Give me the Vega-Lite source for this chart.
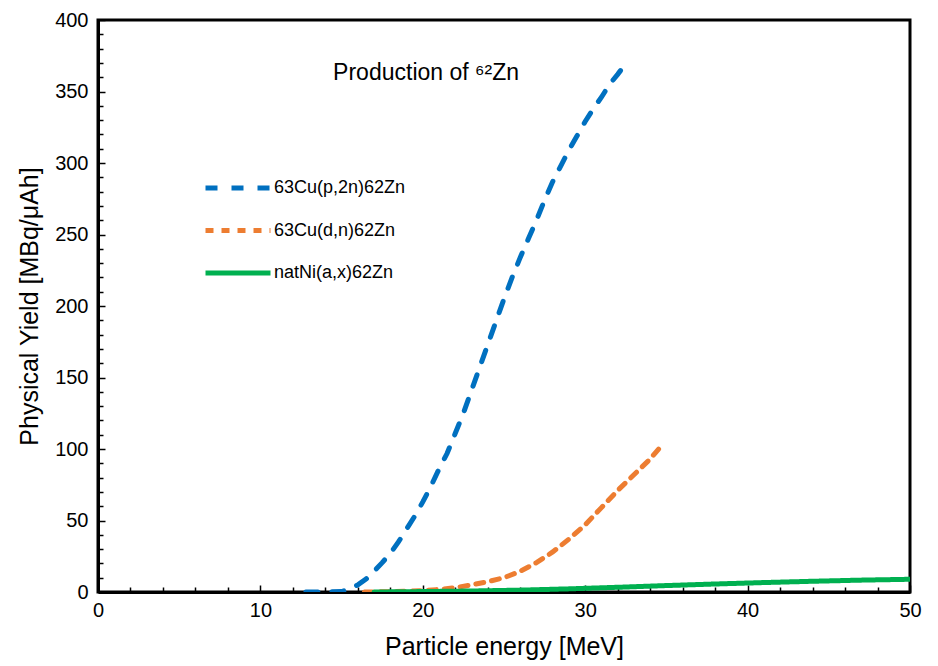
{
  "$schema": "https://vega.github.io/schema/vega-lite/v6.json",
  "width": 812,
  "height": 572,
  "autosize": "none",
  "padding": {"left": 98, "top": 20, "right": 28, "bottom": 74},
  "background": "white",
  "config": {
    "font": "Liberation Sans",
    "view": {"stroke": "black", "strokeWidth": 3}
  },
  "data": {
    "values": [
      {"reaction": "63Cu(p,2n)62Zn", "E": 12.8, "Y": 0},
      {"reaction": "63Cu(p,2n)62Zn", "E": 14, "Y": 0},
      {"reaction": "63Cu(p,2n)62Zn", "E": 15, "Y": 0.3},
      {"reaction": "63Cu(p,2n)62Zn", "E": 15.5, "Y": 2},
      {"reaction": "63Cu(p,2n)62Zn", "E": 16, "Y": 5},
      {"reaction": "63Cu(p,2n)62Zn", "E": 16.5, "Y": 9},
      {"reaction": "63Cu(p,2n)62Zn", "E": 17, "Y": 14.5},
      {"reaction": "63Cu(p,2n)62Zn", "E": 17.5, "Y": 20.5},
      {"reaction": "63Cu(p,2n)62Zn", "E": 18, "Y": 27},
      {"reaction": "63Cu(p,2n)62Zn", "E": 18.5, "Y": 35},
      {"reaction": "63Cu(p,2n)62Zn", "E": 19, "Y": 44},
      {"reaction": "63Cu(p,2n)62Zn", "E": 19.5, "Y": 53},
      {"reaction": "63Cu(p,2n)62Zn", "E": 20, "Y": 63},
      {"reaction": "63Cu(p,2n)62Zn", "E": 20.5, "Y": 74},
      {"reaction": "63Cu(p,2n)62Zn", "E": 21, "Y": 86},
      {"reaction": "63Cu(p,2n)62Zn", "E": 21.5, "Y": 97},
      {"reaction": "63Cu(p,2n)62Zn", "E": 22, "Y": 111},
      {"reaction": "63Cu(p,2n)62Zn", "E": 22.5, "Y": 125},
      {"reaction": "63Cu(p,2n)62Zn", "E": 23, "Y": 141},
      {"reaction": "63Cu(p,2n)62Zn", "E": 23.5, "Y": 157},
      {"reaction": "63Cu(p,2n)62Zn", "E": 24, "Y": 173},
      {"reaction": "63Cu(p,2n)62Zn", "E": 24.5, "Y": 189},
      {"reaction": "63Cu(p,2n)62Zn", "E": 25, "Y": 205},
      {"reaction": "63Cu(p,2n)62Zn", "E": 25.5, "Y": 220},
      {"reaction": "63Cu(p,2n)62Zn", "E": 26, "Y": 234},
      {"reaction": "63Cu(p,2n)62Zn", "E": 26.5, "Y": 247},
      {"reaction": "63Cu(p,2n)62Zn", "E": 27, "Y": 260},
      {"reaction": "63Cu(p,2n)62Zn", "E": 27.5, "Y": 274},
      {"reaction": "63Cu(p,2n)62Zn", "E": 28, "Y": 287},
      {"reaction": "63Cu(p,2n)62Zn", "E": 28.5, "Y": 298},
      {"reaction": "63Cu(p,2n)62Zn", "E": 29, "Y": 309},
      {"reaction": "63Cu(p,2n)62Zn", "E": 29.5, "Y": 319},
      {"reaction": "63Cu(p,2n)62Zn", "E": 30, "Y": 329},
      {"reaction": "63Cu(p,2n)62Zn", "E": 30.5, "Y": 338},
      {"reaction": "63Cu(p,2n)62Zn", "E": 31, "Y": 346},
      {"reaction": "63Cu(p,2n)62Zn", "E": 31.5, "Y": 355},
      {"reaction": "63Cu(p,2n)62Zn", "E": 32, "Y": 362},
      {"reaction": "63Cu(p,2n)62Zn", "E": 32.4, "Y": 368},
      {"reaction": "63Cu(d,n)62Zn", "E": 16.4, "Y": 0},
      {"reaction": "63Cu(d,n)62Zn", "E": 18, "Y": 0.2},
      {"reaction": "63Cu(d,n)62Zn", "E": 19, "Y": 0.5},
      {"reaction": "63Cu(d,n)62Zn", "E": 20, "Y": 1},
      {"reaction": "63Cu(d,n)62Zn", "E": 21, "Y": 1.8},
      {"reaction": "63Cu(d,n)62Zn", "E": 22, "Y": 3},
      {"reaction": "63Cu(d,n)62Zn", "E": 23, "Y": 5},
      {"reaction": "63Cu(d,n)62Zn", "E": 24, "Y": 7.2},
      {"reaction": "63Cu(d,n)62Zn", "E": 25, "Y": 10},
      {"reaction": "63Cu(d,n)62Zn", "E": 26, "Y": 14.5},
      {"reaction": "63Cu(d,n)62Zn", "E": 27, "Y": 20.5},
      {"reaction": "63Cu(d,n)62Zn", "E": 28, "Y": 28},
      {"reaction": "63Cu(d,n)62Zn", "E": 29, "Y": 37},
      {"reaction": "63Cu(d,n)62Zn", "E": 30, "Y": 47},
      {"reaction": "63Cu(d,n)62Zn", "E": 31, "Y": 59},
      {"reaction": "63Cu(d,n)62Zn", "E": 32, "Y": 71},
      {"reaction": "63Cu(d,n)62Zn", "E": 33, "Y": 82},
      {"reaction": "63Cu(d,n)62Zn", "E": 34, "Y": 93},
      {"reaction": "63Cu(d,n)62Zn", "E": 34.6, "Y": 101},
      {"reaction": "natNi(a,x)62Zn", "E": 17, "Y": 0},
      {"reaction": "natNi(a,x)62Zn", "E": 20, "Y": 0.3},
      {"reaction": "natNi(a,x)62Zn", "E": 23, "Y": 0.7},
      {"reaction": "natNi(a,x)62Zn", "E": 26, "Y": 1.3},
      {"reaction": "natNi(a,x)62Zn", "E": 29, "Y": 2.2},
      {"reaction": "natNi(a,x)62Zn", "E": 32, "Y": 3.3},
      {"reaction": "natNi(a,x)62Zn", "E": 35, "Y": 4.5},
      {"reaction": "natNi(a,x)62Zn", "E": 38, "Y": 5.6},
      {"reaction": "natNi(a,x)62Zn", "E": 41, "Y": 6.6},
      {"reaction": "natNi(a,x)62Zn", "E": 44, "Y": 7.5},
      {"reaction": "natNi(a,x)62Zn", "E": 47, "Y": 8.3},
      {"reaction": "natNi(a,x)62Zn", "E": 50, "Y": 8.9}
    ]
  },
  "layer": [
    {
      "mark": {"type": "line", "strokeWidth": 5, "strokeCap": "round", "clip": true},
      "encoding": {
        "x": {
          "field": "E", "type": "quantitative",
          "scale": {"domain": [0, 50], "nice": false, "zero": false},
          "axis": {
            "title": "Particle energy [MeV]", "orient": "bottom",
            "values": [0, 10, 20, 30, 40, 50],
            "grid": false, "tickSize": -7, "tickWidth": 1.5, "tickColor": "black",
            "domainColor": "black", "domainWidth": 3,
            "labelFontSize": 20, "labelColor": "black", "labelPadding": 15, "labelFlush": false,
            "titleFontSize": 25, "titleFontWeight": "normal", "titleColor": "black", "titlePadding": 14
          }
        },
        "y": {
          "field": "Y", "type": "quantitative",
          "scale": {"domain": [0, 400], "nice": false},
          "axis": {
            "title": "Physical Yield [MBq/μAh]", "orient": "left",
            "values": [0, 50, 100, 150, 200, 250, 300, 350, 400],
            "grid": false, "tickSize": -7, "tickWidth": 1.5, "tickColor": "black",
            "domainColor": "black", "domainWidth": 3,
            "labelFontSize": 20, "labelColor": "black", "labelPadding": 17, "labelFlush": false,
            "titleFontSize": 25, "titleFontWeight": "normal", "titleColor": "black", "titlePadding": 12
          }
        },
        "color": {
          "field": "reaction", "type": "nominal",
          "scale": {
            "domain": ["63Cu(p,2n)62Zn", "63Cu(d,n)62Zn", "natNi(a,x)62Zn"],
            "range": ["#0070C0", "#ED7D31", "#00B050"]
          },
          "legend": {
            "orient": "none", "legendX": 105, "legendY": 158, "title": null,
            "symbolType": "stroke", "symbolSize": 4225, "symbolStrokeWidth": 5,
            "clipHeight": 20,
            "labelFontSize": 18, "labelColor": "black", "labelOffset": 1, "rowPadding": 22.5
          }
        },
        "strokeDash": {
          "field": "reaction", "type": "nominal",
          "scale": {
            "domain": ["63Cu(p,2n)62Zn", "63Cu(d,n)62Zn", "natNi(a,x)62Zn"],
            "range": [[12, 14], [8, 8], [1, 0]]
          },
          "legend": null
        }
      }
    },
    {
      "mark": {"type": "point", "opacity": 0},
      "encoding": {
        "x": {
          "field": "E", "type": "quantitative",
          "axis": {
            "orient": "bottom", "title": null, "labels": false, "domain": false, "grid": false,
            "values": [2, 4, 6, 8, 12, 14, 16, 18, 22, 24, 26, 28, 32, 34, 36, 38, 42, 44, 46, 48],
            "tickSize": -5, "tickWidth": 1.5, "tickColor": "black"
          }
        },
        "y": {
          "field": "Y", "type": "quantitative",
          "axis": {
            "orient": "left", "title": null, "labels": false, "domain": false, "grid": false,
            "values": [10, 20, 30, 40, 60, 70, 80, 90, 110, 120, 130, 140, 160, 170, 180, 190, 210, 220, 230, 240, 260, 270, 280, 290, 310, 320, 330, 340, 360, 370, 380, 390],
            "tickSize": -5, "tickWidth": 1.5, "tickColor": "black"
          }
        }
      }
    },
    {
      "data": {"values": [{"label": "Production of  ⁶²Zn"}]},
      "mark": {"type": "text", "fontSize": 23, "font": "Liberation Sans", "color": "black"},
      "encoding": {
        "x": {"datum": 20.2, "type": "quantitative", "axis": null},
        "y": {"datum": 363, "type": "quantitative", "axis": null},
        "text": {"field": "label", "type": "nominal"}
      }
    }
  ],
  "resolve": {"axis": {"x": "independent", "y": "independent"}}
}
